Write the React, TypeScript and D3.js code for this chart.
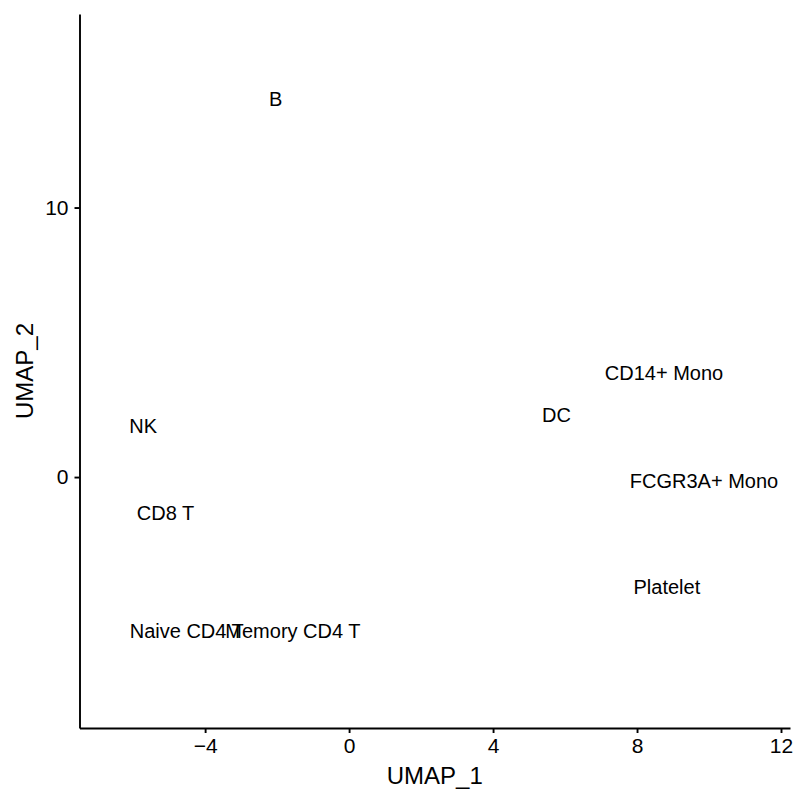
import { useEffect, useRef } from 'react'
import * as d3 from 'd3'

const clusters = ['B', 'NK', 'CD8 T', 'Naive CD4 T', 'Memory CD4 T', 'DC', 'CD14+ Mono', 'FCGR3A+ Mono', 'Platelet']
const umap1 = [-2.04, -5.72, -5.1, -4.51, -1.56, 5.76, 8.75, 9.86, 8.83]
const umap2 = [14.03, 1.89, -1.33, -5.71, -5.71, 2.3, 3.86, -0.13, -4.08]
const xTicks = [-4, 0, 4, 8, 12]
const yTicks = [0, 10]

const W = 797
const H = 790
const FONT = '"Liberation Sans", Arial, Helvetica, sans-serif'

export default function App() {
  const ref = useRef<SVGSVGElement | null>(null)

  useEffect(() => {
    const svg = d3.select(ref.current)
    svg.selectAll('*').remove()

    const x = d3.scaleLinear().domain([-7.49, 12.25]).range([79.5, 790])
    const y = d3.scaleLinear().domain([-9.31, 17.18]).range([728, 14])

    const styleAxis = (g: any) => {
      g.select('.domain').attr('stroke', '#000').attr('stroke-width', 1.9)
      g.selectAll('.tick line').attr('stroke', '#000').attr('stroke-width', 1.9)
      g.selectAll('.tick text')
        .attr('fill', '#000')
        .style('font-family', FONT)
        .style('font-size', '21px')
    }

    svg
      .append('g')
      .attr('transform', `translate(0,${y.range()[0]})`)
      .call(d3.axisBottom(x).tickValues(xTicks).tickSize(5).tickPadding(5).tickSizeOuter(0))
      .call(styleAxis)

    svg
      .append('g')
      .attr('transform', `translate(${x.range()[0]},0)`)
      .call(d3.axisLeft(y).tickValues(yTicks).tickSize(5).tickPadding(6).tickSizeOuter(0))
      .call(styleAxis)

    const pts = clusters.map((name, i) => ({ name, a: umap1[i], b: umap2[i] }))

    // cluster labels, centred on each cluster's median position
    svg
      .append('g')
      .selectAll('text')
      .data(pts)
      .enter()
      .append('text')
      .attr('x', (d) => x(d.a))
      .attr('y', (d) => y(d.b))
      .attr('dy', '0.36em')
      .attr('text-anchor', 'middle')
      .style('font-family', FONT)
      .style('font-size', '20px')
      .attr('fill', '#000')
      .text((d) => d.name)

    svg
      .append('text')
      .attr('x', (x.range()[0] + x.range()[1]) / 2)
      .attr('y', 784)
      .attr('text-anchor', 'middle')
      .style('font-family', FONT)
      .style('font-size', '24px')
      .text('UMAP_1')

    svg
      .append('text')
      .attr('transform', `translate(33,${(y.range()[0] + y.range()[1]) / 2}) rotate(-90)`)
      .attr('text-anchor', 'middle')
      .style('font-family', FONT)
      .style('font-size', '24px')
      .text('UMAP_2')
  }, [])

  return (
    <svg
      ref={ref}
      width={W}
      height={H}
      style={{ position: 'absolute', left: 0, top: 0, background: '#fff' }}
    />
  )
}
